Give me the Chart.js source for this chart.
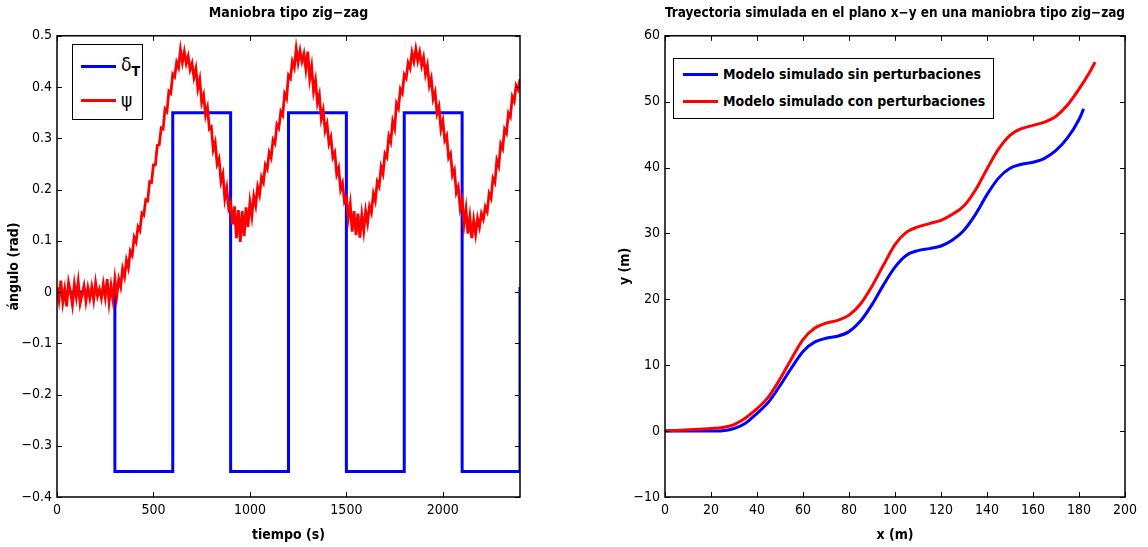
<!DOCTYPE html>
<html>
<head>
<meta charset="utf-8">
<script src="https://cdn.jsdelivr.net/npm/chart.js@4.4.0/dist/chart.umd.min.js"></script>
<style>
body{margin:0;background:#fff;width:1148px;height:547px;position:relative;overflow:hidden;
  font-family:"Liberation Sans Narrow","DejaVu Sans Condensed","Arial Narrow",Arial,sans-serif}
canvas{position:absolute;top:0}
.legend{position:absolute;background:#fff;border:1.5px solid #000;box-sizing:border-box}
.row{position:absolute;display:flex;align-items:center;white-space:nowrap}
.swatch{display:inline-block;height:3px}
</style>
</head>
<body>
<canvas id="c1" width="560" height="547" style="left:0"></canvas>
<canvas id="c2" width="548" height="547" style="left:600px"></canvas>
<div class="legend" id="leg1" style="left:72px;top:44px;width:71px;height:76px"></div>
<div class="legend" id="leg2" style="left:673px;top:58px;width:321px;height:61px"></div>
<script>
var FONT = '"Liberation Sans Narrow","DejaVu Sans Condensed","Arial Narrow",Arial,sans-serif';

// maniobra zig-zag: timon (escalones) y rumbo psi muestreado cada 10 s
var stepTimes = [0, 300, 600, 900, 1200, 1500, 1800, 2100, 2400];
var deltaLevels = [0, -0.35, 0.35, -0.35, 0.35, -0.35, 0.35, -0.35, 0.01];
var psiStep = 10;
var psi = [
  0.010,-0.015,0.022,-0.020,0.005,-0.028,0.018,0.000,-0.025,0.015,
  -0.010,0.020,-0.022,-0.005,0.012,-0.018,0.008,-0.012,0.010,-0.015,
  0.018,-0.008,0.005,-0.012,0.015,-0.010,0.025,-0.020,0.012,-0.015,
  0.025,-0.008,0.025,0.010,0.045,0.030,0.062,0.047,0.080,0.072,
  0.107,0.098,0.127,0.120,0.154,0.150,0.180,0.178,0.215,0.214,
  0.248,0.248,0.286,0.287,0.320,0.318,0.357,0.352,0.392,0.388,
  0.425,0.420,0.448,0.438,0.473,0.448,0.469,0.446,0.460,0.434,
  0.446,0.419,0.436,0.397,0.415,0.370,0.384,0.345,0.360,0.318,
  0.322,0.278,0.292,0.250,0.260,0.216,0.230,0.182,0.203,0.163,
  0.173,0.132,0.167,0.105,0.160,0.098,0.158,0.109,0.165,0.127,
  0.175,0.148,0.187,0.169,0.205,0.190,0.224,0.214,0.248,0.240,
  0.272,0.262,0.297,0.290,0.327,0.320,0.352,0.345,0.387,0.378,
  0.423,0.417,0.450,0.438,0.475,0.448,0.471,0.450,0.465,0.435,
  0.469,0.416,0.440,0.392,0.413,0.369,0.385,0.338,0.355,0.315,
  0.328,0.290,0.302,0.263,0.272,0.230,0.242,0.200,0.212,0.176,
  0.184,0.145,0.172,0.118,0.158,0.111,0.153,0.106,0.150,0.119,
  0.158,0.135,0.167,0.155,0.192,0.178,0.215,0.206,0.244,0.231,
  0.270,0.263,0.304,0.293,0.333,0.319,0.368,0.359,0.396,0.388,
  0.424,0.417,0.447,0.437,0.467,0.450,0.474,0.451,0.468,0.442,
  0.458,0.425,0.442,0.403,0.417,0.377,0.390,0.349,0.362,0.318,
  0.334,0.296,0.305,0.262,0.270,0.228,0.238,0.194,0.205,0.163,
  0.179,0.132,0.162,0.114,0.146,0.105,0.140,0.113,0.144,0.127,
  0.153,0.142,0.166,0.157,0.192,0.183,0.222,0.214,0.257,0.246,
  0.289,0.280,0.318,0.310,0.349,0.342,0.381,0.372,0.403,0.395,
  0.415
];
var tiempoTicks = [0, 500, 1000, 1500, 2000];
var anguloTicks = [-0.4, -0.3, -0.2, -0.1, 0, 0.1, 0.2, 0.3, 0.4, 0.5];

// trayectoria en el plano x-y
var xSin = [0,5,10,15,20,25,30,35,40,45,50,55,60,65,70,75,80,85,90,95,100,105,110,115,120,125,130,135,140,145,150,155,160,165,170,175,180,182];
var ySin = [0,0,0,0,0,0.05,0.4,1.2,2.7,4.4,6.9,9.6,12.1,13.5,14.1,14.4,15.1,16.7,19.2,22.2,24.9,26.7,27.4,27.7,28.1,29.0,30.5,32.9,35.9,38.4,39.9,40.5,40.8,41.4,42.6,44.5,47.3,48.9];
var xCon = [0,5,10,15,20,25,30,35,40,45,50,55,60,65,70,75,80,85,90,95,100,105,110,115,120,125,130,135,140,145,150,155,160,165,170,175,180,185,187];
var yCon = [0,0.1,0.2,0.3,0.4,0.55,1.0,2.0,3.4,5.2,7.9,11.0,13.9,15.6,16.4,16.8,17.6,19.3,22.0,25.2,28.3,30.2,31.0,31.5,32.0,32.9,34.2,36.6,39.8,42.8,44.9,45.9,46.4,46.9,47.8,49.5,51.9,54.7,56.0];
var xTicks = [0, 20, 40, 60, 80, 100, 120, 140, 160, 180, 200];
var yTicks = [-10, 0, 10, 20, 30, 40, 50, 60];

function pts(xs, ys){ return xs.map(function(x, i){ return {x: x, y: ys[i]}; }); }
function fmt(v){
  var r = Math.round(v * 10) / 10;
  return r < 0 ? '\u2212' + Math.abs(r) : String(r);
}

Chart.defaults.color = '#000';
Chart.defaults.font.family = FONT;
Chart.defaults.font.size = 13;

// marco tipo matlab con marcas hacia dentro
var marco = {
  id: 'marco',
  afterDatasetsDraw: function(chart){
    var a = chart.chartArea, ctx = chart.ctx, xs = chart.scales.x, ys = chart.scales.y;
    ctx.save();
    ctx.strokeStyle = '#000';
    ctx.lineWidth = 1;
    ctx.beginPath();
    xs.ticks.forEach(function(t){
      var p = Math.round(xs.getPixelForValue(t.value)) + 0.5;
      ctx.moveTo(p, a.bottom); ctx.lineTo(p, a.bottom - 5);
      ctx.moveTo(p, a.top); ctx.lineTo(p, a.top + 5);
    });
    ys.ticks.forEach(function(t){
      var p = Math.round(ys.getPixelForValue(t.value)) + 0.5;
      ctx.moveTo(a.left, p); ctx.lineTo(a.left + 5, p);
      ctx.moveTo(a.right, p); ctx.lineTo(a.right - 5, p);
    });
    ctx.stroke();
    ctx.lineWidth = 1.5;
    ctx.strokeRect(a.left, a.top, a.right - a.left, a.bottom - a.top);
    ctx.restore();
  }
};

function axis(min, max, tickVals, title, titlePad, fit){
  return {
    type: 'linear', min: min, max: max,
    grid: {display: false, drawTicks: false},
    border: {display: false},
    afterBuildTicks: function(s){
      s.ticks = tickVals.map(function(v){ return {value: v}; });
    },
    ticks: {autoSkip: false, padding: 5, font: {size: 14}, callback: fmt},
    title: {display: true, text: title, font: {size: 14, weight: 'bold'}, padding: titlePad},
    afterFit: fit
  };
}

var chart1 = new Chart(document.getElementById('c1'), {
  type: 'line',
  data: {
    datasets: [{
      label: 'δ', sub: 'T',
      data: pts(stepTimes, deltaLevels),
      borderColor: '#0000ff', borderWidth: 3, stepped: 'before',
      pointRadius: 0, order: 1
    }, {
      label: 'ψ',
      data: psi.map(function(v, i){ return {x: i * psiStep, y: v}; }),
      borderColor: '#ff0000', borderWidth: 2.8, tension: 0,
      pointRadius: 0, order: 0
    }]
  },
  options: {
    responsive: false, animation: false,
    layout: {padding: {left: 0, right: 40, top: 0, bottom: 0}},
    plugins: {
      legend: {display: false}, tooltip: {enabled: false},
      title: {display: true, fullSize: false, text: 'Maniobra tipo zig\u2212zag', font: {size: 14, weight: 'bold'}, padding: {top: 5, bottom: 14}}
    },
    scales: {
      x: axis(0, 2400, tiempoTicks, 'tiempo (s)', {top: 0, bottom: 3}, function(s){ s.height = 50; }),
      y: axis(-0.4, 0.5, anguloTicks, '\u00e1ngulo (rad)', {top: 6, bottom: 0}, function(s){ s.width = 57; })
    }
  },
  plugins: [marco]
});

var chart2 = new Chart(document.getElementById('c2'), {
  type: 'line',
  data: {
    datasets: [{
      label: 'Modelo simulado sin perturbaciones',
      data: pts(xSin, ySin),
      borderColor: '#0000ff', borderWidth: 3, cubicInterpolationMode: 'monotone',
      pointRadius: 0, order: 1
    }, {
      label: 'Modelo simulado con perturbaciones',
      data: pts(xCon, yCon),
      borderColor: '#ff0000', borderWidth: 3, cubicInterpolationMode: 'monotone',
      pointRadius: 0, order: 0
    }]
  },
  options: {
    responsive: false, animation: false,
    layout: {padding: {left: 0, right: 23, top: 0, bottom: 0}},
    plugins: {
      legend: {display: false}, tooltip: {enabled: false},
      title: {display: true, fullSize: false, text: 'Trayectoria simulada en el plano x\u2212y en una maniobra tipo zig\u2212zag', font: {size: 14, weight: 'bold'}, padding: {top: 5, bottom: 14}}
    },
    scales: {
      x: axis(0, 200, xTicks, 'x (m)', {top: 0, bottom: 3}, function(s){ s.height = 50; }),
      y: axis(-10, 60, yTicks, 'y (m)', {top: 17, bottom: 0}, function(s){ s.width = 65; })
    }
  },
  plugins: [marco]
});

// leyendas dentro del area, construidas desde los datasets
function leyenda(el, chart, opt){
  chart.data.datasets.forEach(function(ds, i){
    var row = document.createElement('div');
    row.className = 'row';
    row.style.left = opt.left + 'px';
    row.style.top = (opt.top + i * opt.gap) + 'px';
    row.style.height = '24px';
    var sw = document.createElement('span');
    sw.className = 'swatch';
    sw.style.width = opt.sw + 'px';
    sw.style.background = ds.borderColor;
    sw.style.marginRight = '5px';
    var tx = document.createElement('span');
    tx.style.font = opt.font;
    tx.textContent = ds.label;
    if (ds.sub) {
      var sb = document.createElement('sub');
      sb.textContent = ds.sub;
      sb.style.fontWeight = 'bold';
      sb.style.fontSize = '14px';
      tx.appendChild(sb);
    }
    row.appendChild(sw);
    row.appendChild(tx);
    el.appendChild(row);
  });
}
leyenda(document.getElementById('leg1'), chart1, {left: 8, top: 9, gap: 34, sw: 35, font: '19px ' + FONT});
leyenda(document.getElementById('leg2'), chart2, {left: 9, top: 3, gap: 27, sw: 35, font: 'bold 14px ' + FONT});
</script>
</body>
</html>
